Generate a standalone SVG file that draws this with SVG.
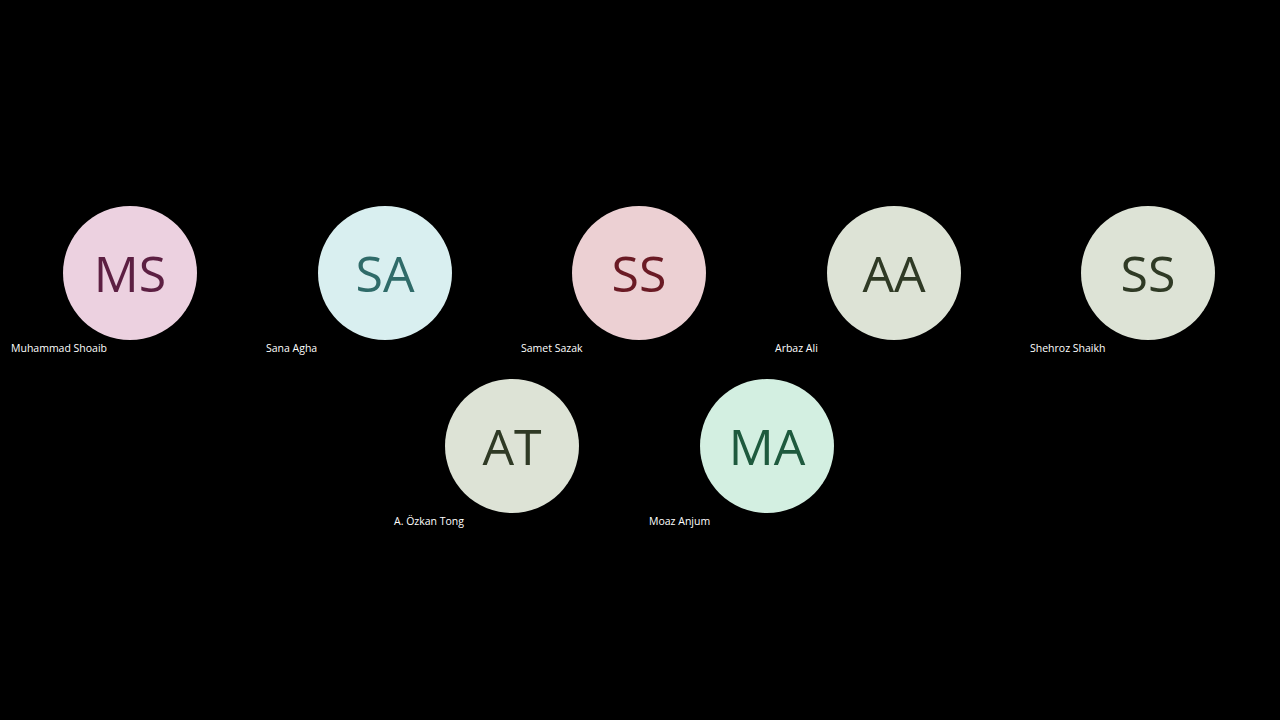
<svg xmlns="http://www.w3.org/2000/svg" width="1280" height="720" viewBox="0 0 1280 720">
<style>
.i{font-family:"Open Sans","Noto Sans",sans-serif;font-size:50px;text-anchor:middle}
.n{font-family:"Open Sans","Noto Sans",sans-serif;font-size:10.5px;fill:#fff}
</style>
<rect width="1280" height="720" fill="#000"/>
<g id="ms"><circle cx="130" cy="273" r="67" fill="#ecd1e0"/><text class="i" x="130" y="292" fill="#5c1f42">MS</text><text class="n" x="11" y="352">Muhammad Shoaib</text></g>
<g id="sa"><circle cx="385" cy="273" r="67" fill="#d9eff0"/><text class="i" x="385" y="292" fill="#2f6b69">SA</text><text class="n" x="266" y="352">Sana Agha</text></g>
<g id="ss1"><circle cx="639" cy="273" r="67" fill="#ecd0d3"/><text class="i" x="639" y="292" fill="#6a1a24">SS</text><text class="n" x="521" y="352">Samet Sazak</text></g>
<g id="aa"><circle cx="894" cy="273" r="67" fill="#dde3d6"/><text class="i" x="894" y="292" fill="#2f3a25">AA</text><text class="n" x="775" y="352">Arbaz Ali</text></g>
<g id="ss2"><circle cx="1148" cy="273" r="67" fill="#dde3d6"/><text class="i" x="1148" y="292" fill="#2f3a25">SS</text><text class="n" x="1030" y="352">Shehroz Shaikh</text></g>
<g id="at"><circle cx="512" cy="446" r="67" fill="#dde3d6"/><text class="i" x="512" y="465" fill="#2f3a25">AT</text><text class="n" x="394" y="525">A. Özkan Tong</text></g>
<g id="ma"><circle cx="767" cy="446" r="67" fill="#d3efe1"/><text class="i" x="767" y="465" fill="#1e5a3e">MA</text><text class="n" x="649" y="525">Moaz Anjum</text></g>
<g id="connectors"/>
</svg>
